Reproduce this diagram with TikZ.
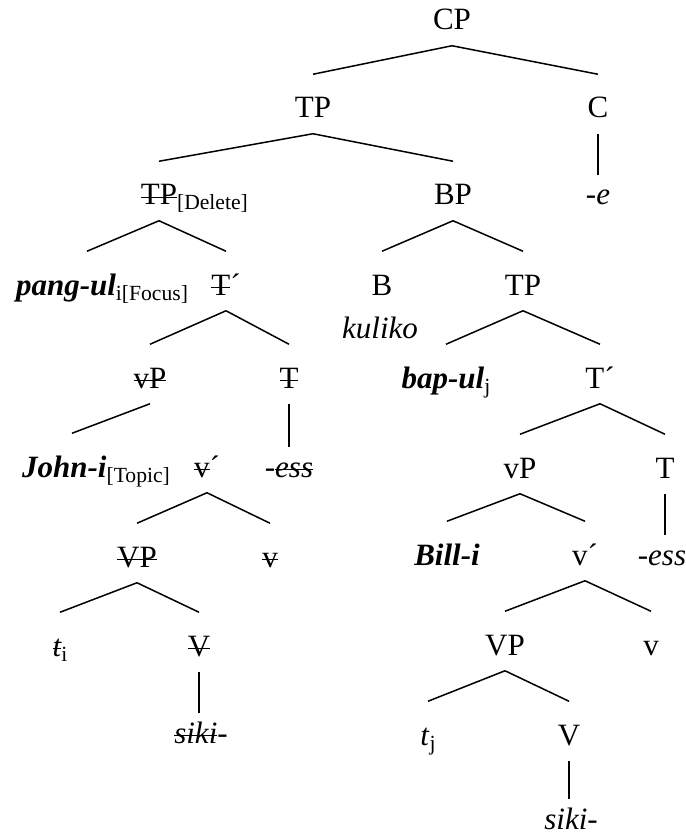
\documentclass[tikz,border=0pt]{standalone}
\usepackage{fontspec}
\setmainfont{Liberation Serif}
\newcommand\strk[1]{\leavevmode\setbox0\hbox{#1}\rlap{\raisebox{0.22em}{\rule{\wd0}{0.8pt}}}\box0}
\newcommand\lowtag[1]{\raisebox{-2.5pt}{\fontsize{10.8}{12}\selectfont #1}}
\newcommand\bi[1]{\textbf{\textit{#1}}}

\begin{document}
\begin{tikzpicture}[x=0.5pt,y=-0.5pt,line width=0.75pt,font=\fontsize{15.5}{18}\selectfont]
    \tikzset{cat/.style={inner sep=0pt,anchor=base,text height=21.5pt,text depth=7.5pt},
             word/.style={cat,text height=14.5pt}}
    \useasboundingbox (0,0) rectangle (685,834);
    % top
    \node[cat] (cp) at (452,30) {CP};
    \node[cat] (tp) at (313,118) {TP};
    \node[cat] (c) at (598,118) {C};
    \node[word] (e) at (598,205) {-\textit{e}};
    % deleted TP
    \node[cat] (tpdel) at (159,205) {\strk{TP}\rlap{\lowtag{[Delete]}}};
    \node[cat] (pang) at (102,295) {\bi{pang-ul}\lowtag{i[Focus]}};
    \node[cat] (tbar) at (226,295) {\strk{T}´};
    \node[cat] (vP1) at (150,388) {\strk{vP}};
    \node[cat] (t1) at (289,388) {\strk{T}};
    \node[cat] (john) at (96,477) {\bi{John-i}\lowtag{[Topic]}};
    \node[cat] (vbar1) at (207,477) {\strk{v}´};
    \node[word] (ess1) at (289,477) {-\textit{\strk{ess}}};
    \node[cat] (VP1) at (137,567) {\strk{VP}};
    \node[cat] (v1) at (270,567) {\strk{v}};
    \node[cat] (ti) at (60,656) {\textit{\strk{t}}\lowtag{i}};
    \node[cat] (V1) at (199,656) {\strk{V}};
    \node[word] (siki1) at (201,743) {\textit{\strk{siki}-}};
    % BP
    \node[cat] (bp) at (453,205) {BP};
    \node[cat] (b) at (382,295) {B};
    \node[cat] (kuliko) at (380,338) {\textit{kuliko}};
    \node[cat] (tp2) at (523,295) {TP};
    \node[cat] (bapul) at (446,388) {\bi{bap-ul}\lowtag{j}};
    \node[cat] (tbar2) at (600,388) {T´};
    \node[cat] (vP2) at (520,478) {vP};
    \node[cat] (t2) at (665,478) {T};
    \node[cat] (bill) at (447,565) {\bi{Bill-i}};
    \node[cat] (vbar2) at (585,565) {v´};
    \node[word] (ess2) at (662,565) {-\textit{ess}};
    \node[cat] (VP2) at (505,655) {VP};
    \node[cat] (v2) at (651,655) {v};
    \node[cat] (tj) at (428,745) {\textit{t}\lowtag{j}};
    \node[cat] (V2) at (569,745) {V};
    \node[word] (siki2) at (571,829) {\textit{siki-}};
    % branches
    \foreach \p/\d in {cp/tp,cp/c,tp/tpdel,tp/bp,tpdel/tbar,tbar/vP1,tbar/t1,vbar1/VP1,vbar1/v1,VP1/ti,VP1/V1,
                       bp/b,bp/tp2,tp2/bapul,tp2/tbar2,tbar2/vP2,tbar2/t2,vP2/bill,vP2/vbar2,vbar2/VP2,vbar2/v2,VP2/tj,VP2/V2}
      \draw (\p.south) -- (\d.north);
    \draw (tpdel.south) -- ([xshift=-7.5pt]pang.north);
    \draw (vP1.south) -- ([xshift=-12pt]john.north);
    \foreach \p/\d in {c/e,t1/ess1,V1/siki1,t2/ess2,V2/siki2}
      \draw (\p.south) -- (\p.south |- \d.north);
  \end{tikzpicture}
\end{document}
